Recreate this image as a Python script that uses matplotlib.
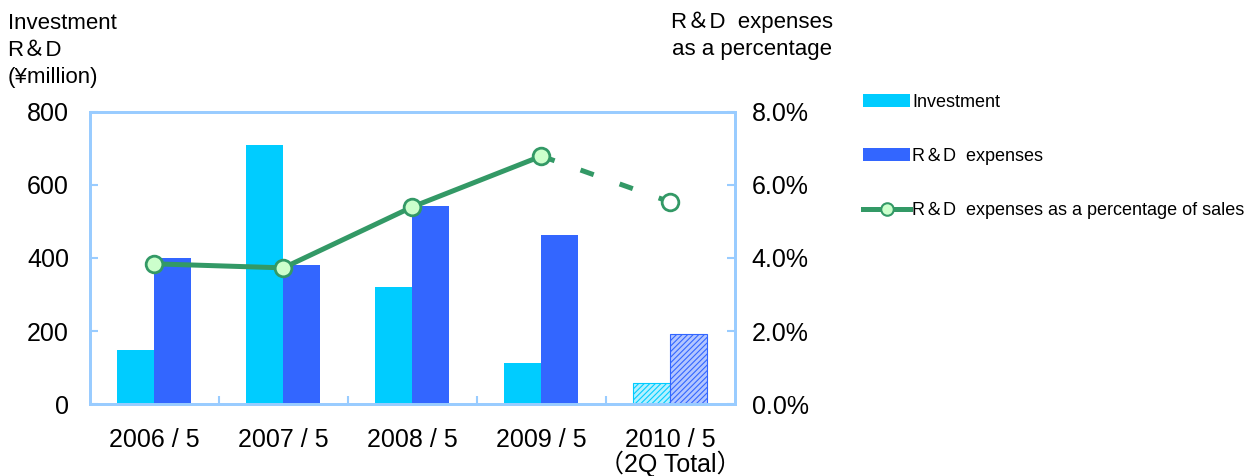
import matplotlib.pyplot as plt
from matplotlib.lines import Line2D
from matplotlib.patches import Patch
import numpy as np

plt.rcParams['font.family'] = ['Liberation Sans', 'Noto Sans CJK JP', 'DejaVu Sans']
plt.rcParams['hatch.linewidth'] = 0.8

years = ['2006 / 5', '2007 / 5', '2008 / 5', '2009 / 5', '2010 / 5\n（2Q Total）']
investment = [148, 710, 320, 112, 57]
rd_expenses = [400, 381, 542, 463, 192]
rd_pct = [3.84, 3.73, 5.40, 6.79, 5.53]

c_inv = '#00ccff'
c_rd = '#3366ff'
c_line = '#339966'
c_spine = '#99ccff'

fig = plt.figure(figsize=(12.58, 4.76), dpi=100)
ax = fig.add_axes([0.0715, 0.151, 0.5127, 0.614])
ax2 = ax.twinx()

x = np.arange(len(years))
w = 0.287
for i in x:
    last = i == len(years) - 1
    if last:
        ax.bar(i - w / 2, investment[i], w, color='#b3f0ff', edgecolor=c_inv, hatch='//////', linewidth=0.8)
        ax.bar(i + w / 2, rd_expenses[i], w, color='#b3c6ff', edgecolor=c_rd, hatch='//////', linewidth=0.8)
    else:
        ax.bar(i - w / 2, investment[i], w, color=c_inv, linewidth=0)
        ax.bar(i + w / 2, rd_expenses[i], w, color=c_rd, linewidth=0)

# solid through 2009, dashed to the half-year figure
ax2.plot(x[:4], rd_pct[:4], color=c_line, lw=3.6, zorder=3)
ax2.plot(x[3:], rd_pct[3:], color=c_line, lw=3.6, dashes=(2.8, 5.5), zorder=3)
ax2.plot(x[:4], rd_pct[:4], 'o', ms=12, mfc='#ccffcc', mec=c_line, mew=2, zorder=4)
ax2.plot(x[4:], rd_pct[4:], 'o', ms=12, mfc='white', mec=c_line, mew=2, zorder=4)

ax.set_xlim(-0.5, 4.5)
ax.set_ylim(0, 800)
ax.set_yticks([0, 200, 400, 600, 800])
ax2.set_ylim(0, 8)
ax2.set_yticks([0, 2, 4, 6, 8])
ax2.set_yticklabels([f'{v:.1f}%' for v in [0, 2, 4, 6, 8]])

ax.set_xticks(x)
ax.set_xticklabels(years, fontsize=18, linespacing=0.95, va='top')
ax.tick_params(axis='x', length=0, pad=17)
ax.set_xticks(np.arange(0.5, 4.5, 1), minor=True)
ax.tick_params(axis='x', which='minor', direction='in', length=6, color=c_spine, width=1.5)
ax.tick_params(axis='y', direction='in', length=6, color=c_spine, width=1.5, labelsize=18, pad=15)
ax2.tick_params(axis='y', direction='in', length=6, color=c_spine, width=1.5, labelsize=18, pad=12)

for a in (ax, ax2):
    for s in a.spines.values():
        s.set_color(c_spine)
        s.set_linewidth(2)

fig.text(0.006, 0.972, 'Investment\nR＆D\n(¥million)', fontsize=16, ha='left', va='top', linespacing=1.35)
fig.text(0.662, 0.975, 'R＆D  expenses\nas a percentage', fontsize=16, ha='right', va='top',
         multialignment='center', linespacing=1.35)

handles = [
    Patch(facecolor=c_inv, edgecolor='none'),
    Patch(facecolor=c_rd, edgecolor='none'),
    Line2D([0], [0], color=c_line, lw=3.6, marker='o', ms=9, mfc='#ccffcc', mec=c_line, mew=1.5),
]
labels = ['Investment', 'R＆D  expenses', 'R＆D  expenses as a percentage of sales']
fig.legend(handles, labels, loc='upper left', bbox_to_anchor=(0.679, 0.822), frameon=False,
           fontsize=13, handlelength=2.6, handleheight=0.7, handletextpad=0.1, labelspacing=2.05,
           borderpad=0)

fig.savefig('out.png', dpi=100)
